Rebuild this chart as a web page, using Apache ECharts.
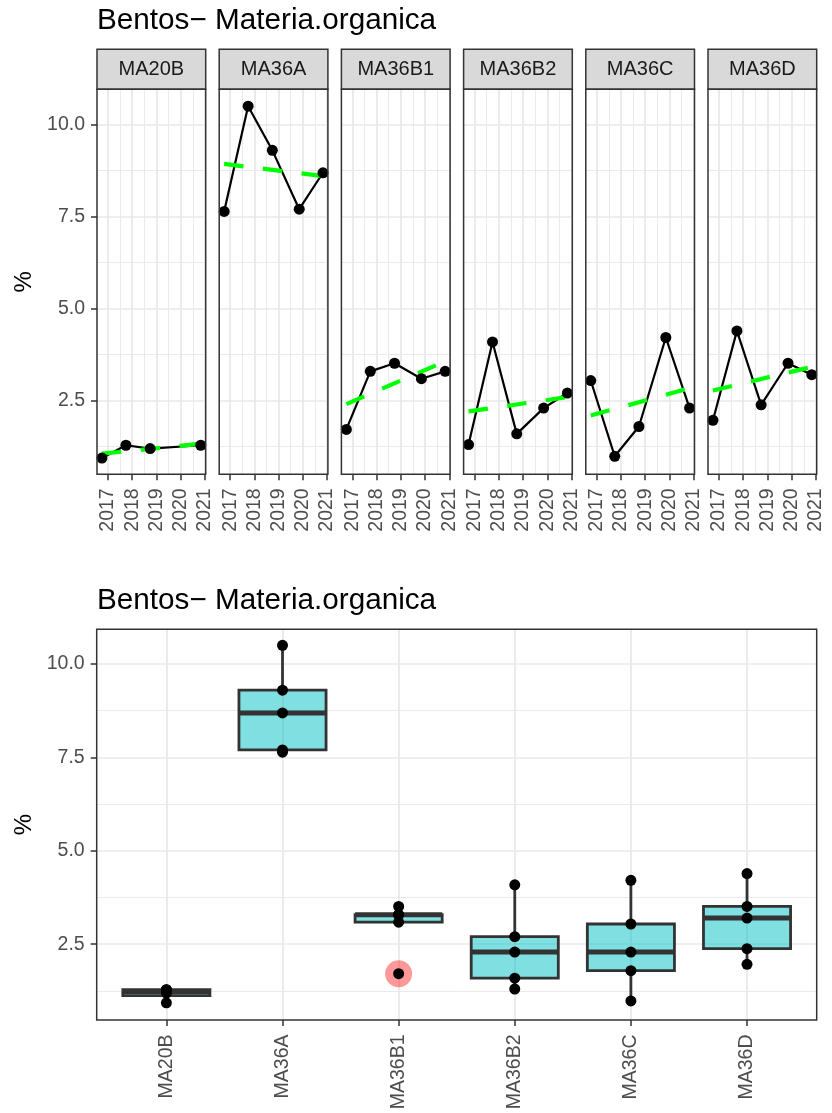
<!DOCTYPE html>
<html>
<head>
<meta charset="utf-8">
<script src="https://cdn.jsdelivr.net/npm/echarts@6/dist/echarts.min.js"></script>
<style>
html,body{margin:0;padding:0;background:#ffffff;}
#chart{width:832px;height:1113px;}
</style>
</head>
<body>
<div id="chart"></div>
<script>
// ---------------- DATA ----------------
const stations = ['MA20B', 'MA36A', 'MA36B1', 'MA36B2', 'MA36C', 'MA36D'];
const sampleYears = [2016.75, 2017.74, 2018.74, 2019.85, 2020.83];
const valuesMA20B  = [0.93, 1.28, 1.19, null, 1.28];
const valuesMA36A  = [7.64, 10.50, 9.30, 7.70, 8.69];
const valuesMA36B1 = [1.71, 3.29, 3.51, 3.09, 3.29];
const valuesMA36B2 = [1.30, 4.09, 1.59, 2.29, 2.70];
const valuesMA36C  = [3.04, 0.98, 1.79, 4.21, 2.29];
const valuesMA36D  = [1.96, 4.39, 2.38, 3.51, 3.20];
// linear trend (green dashed) at first and last sampling date
const trendStart = [1.05, 8.93, 2.40, 2.20, 2.09, 2.77];
const trendEnd   = [1.32, 8.60, 3.56, 2.59, 2.83, 3.41];
// tick labels
const yMajorTicks = [2.5, 5.0, 7.5, 10.0];
const yMinorTicks = [1.25, 3.75, 6.25, 8.75];
const yearMajorTicks = [2017, 2018, 2019, 2020, 2021];
const yearMinorTicks = [2017.5, 2018.5, 2019.5, 2020.5];
const titleText = 'Bentos\u2212 Materia.organica';
const yTitleText = '%';

// ---------------- LAYOUT / STYLE ----------------
const FONT = '"Liberation Sans", Arial, Helvetica, sans-serif';
const allValues = [valuesMA20B, valuesMA36A, valuesMA36B1, valuesMA36B2, valuesMA36C, valuesMA36D];
const P_LEFT0 = 97, P_W = 108.7, P_STEP = 122.2, P_TOP = 89.3, P_H = 385;
const S_TOP = 49.3, S_H = 40;
const B_LEFT = 96.7, B_TOP = 629.3, B_W = 720, B_H = 390.7;
const TOP_Y = [0.49, 10.96], TOP_X = [2016.546, 2021.034];
const BOT_Y = [0.47, 10.93], BOT_X = [0.4, 6.6];
const GRID_COLOR = '#E8E8E8', DARK = '#333333', TXT = '#4D4D4D';
const AX_FS = 19.5;

const grids = [], xAxes = [], yAxes = [], series = [], graphics = [];

function majorX(gi, range, ticks, fmt, margin) {
  return {
    type: 'value', gridIndex: gi, min: range[0], max: range[1], position: 'bottom',
    axisLine: { show: false },
    axisTick: { show: true, length: 6, lineStyle: { color: DARK, width: 1.5 }, customValues: ticks },
    axisLabel: { show: true, customValues: ticks, rotate: 90, margin: margin, fontSize: AX_FS, color: TXT,
      fontFamily: FONT, padding: [14, 0, 0, 0], formatter: fmt },
    splitLine: { show: true, lineStyle: { color: GRID_COLOR, width: 1.7 } },
    minorSplitLine: { show: false }
  };
}
function minorAxis(gi, range, ticks, pos) {
  return {
    type: 'value', gridIndex: gi, min: range[0], max: range[1], position: pos,
    axisLine: { show: false },
    axisTick: { show: false, customValues: ticks },
    axisLabel: { show: false, customValues: ticks },
    splitLine: { show: true, lineStyle: { color: GRID_COLOR, width: 0.9 } }
  };
}
function majorY(gi, range, showLabels) {
  return {
    type: 'value', gridIndex: gi, min: range[0], max: range[1], position: 'left',
    axisLine: { show: false },
    axisTick: { show: showLabels, length: 6, lineStyle: { color: DARK, width: 1.5 }, customValues: yMajorTicks },
    axisLabel: { show: showLabels, customValues: yMajorTicks, margin: 12, fontSize: AX_FS, color: TXT,
      fontFamily: FONT, formatter: v => Number(v).toFixed(1) },
    splitLine: { show: true, lineStyle: { color: GRID_COLOR, width: 1.7 } }
  };
}

// ---------- top faceted panels ----------
stations.forEach((name, i) => {
  const left = P_LEFT0 + i * P_STEP;
  grids.push({ left: left, top: P_TOP, width: P_W, height: P_H, show: false, containLabel: false, outerBoundsMode: 'none' });
  xAxes.push(majorX(i, TOP_X, yearMajorTicks, v => String(Math.round(v)), 14));
  xAxes.push(minorAxis(i, TOP_X, yearMinorTicks, 'top'));
  yAxes.push(majorY(i, TOP_Y, i === 0));
  yAxes.push(minorAxis(i, TOP_Y, yMinorTicks, 'right'));

  const pts = sampleYears.map((yr, k) => [yr, allValues[i][k]]).filter(d => d[1] !== null);
  series.push({ type: 'line', xAxisIndex: 2 * i, yAxisIndex: 2 * i, data: pts, symbol: 'none',
    lineStyle: { color: '#000000', width: 2.2 }, z: 2, silent: true, animation: false });
  series.push({ type: 'line', xAxisIndex: 2 * i, yAxisIndex: 2 * i,
    data: [[pts[0][0], trendStart[i]], [pts[pts.length - 1][0], trendEnd[i]]], symbol: 'none',
    lineStyle: { color: '#00FF00', width: 4.2, type: [19.5, 19.5], cap: 'butt' }, z: 3, silent: true, animation: false });
  series.push({ type: 'scatter', xAxisIndex: 2 * i, yAxisIndex: 2 * i, data: pts, symbol: 'circle', symbolSize: 11,
    itemStyle: { color: '#000000', opacity: 1 }, z: 4, silent: true, animation: false });

  // strip
  graphics.push({ type: 'rect', shape: { x: left, y: S_TOP, width: P_W, height: S_H },
    style: { fill: '#D9D9D9', stroke: DARK, lineWidth: 1.5 }, z: 100 });
  graphics.push({ type: 'text', x: left + P_W / 2, y: S_TOP + S_H / 2,
    style: { text: name, fill: '#1A1A1A', font: '20px ' + FONT, textAlign: 'center', textVerticalAlign: 'middle' }, z: 101 });
  // panel border
  graphics.push({ type: 'rect', shape: { x: left, y: P_TOP, width: P_W, height: P_H },
    style: { fill: 'none', stroke: DARK, lineWidth: 1.5 }, z: 100 });
});

// ---------- bottom boxplot panel ----------
const BG = stations.length;
grids.push({ left: B_LEFT, top: B_TOP, width: B_W, height: B_H, show: false, containLabel: false, outerBoundsMode: 'none' });
xAxes.push({
  type: 'value', gridIndex: BG, min: BOT_X[0], max: BOT_X[1], position: 'bottom',
  axisLine: { show: false },
  axisTick: { show: true, length: 6, lineStyle: { color: DARK, width: 1.5 }, customValues: stations.map((s, i) => i + 1) },
  axisLabel: { show: true, customValues: stations.map((s, i) => i + 1), rotate: 90, margin: 14.5, fontSize: AX_FS, color: TXT,
    fontFamily: FONT, padding: [14, 0, 0, 0], formatter: v => stations[Math.round(v) - 1] || '' },
  splitLine: { show: true, lineStyle: { color: GRID_COLOR, width: 1.7 } }
});
yAxes.push(majorY(BG, BOT_Y, true));
yAxes.push(minorAxis(BG, BOT_Y, yMinorTicks, 'right'));

function q7(sorted, p) {
  const h = (sorted.length - 1) * p, lo = Math.floor(h), hi = Math.ceil(h);
  return sorted[lo] + (h - lo) * (sorted[hi] - sorted[lo]);
}
const boxData = [], outlierData = [], pointData = [];
stations.forEach((name, i) => {
  const vals = allValues[i].filter(v => v !== null);
  const s = vals.slice().sort((a, b) => a - b);
  const q1 = q7(s, 0.25), med = q7(s, 0.5), q3 = q7(s, 0.75), iqr = q3 - q1;
  const inside = s.filter(v => v >= q1 - 1.5 * iqr && v <= q3 + 1.5 * iqr);
  const lo = Math.min(...inside), hi = Math.max(...inside);
  boxData.push([i + 1, lo, q1, med, q3, hi]);
  s.filter(v => v < q1 - 1.5 * iqr || v > q3 + 1.5 * iqr).forEach(v => outlierData.push([i + 1, v]));
  vals.forEach(v => pointData.push([i + 1, v]));
});

series.push({
  type: 'custom', xAxisIndex: 2 * BG, yAxisIndex: 2 * BG, data: boxData, z: 2, silent: true, animation: false,
  encode: { x: 0, y: [1, 2, 3, 4, 5] },
  renderItem: function (params, api) {
    const x = api.value(0);
    const pLo = api.coord([x, api.value(1)]), pQ1 = api.coord([x, api.value(2)]);
    const pMed = api.coord([x, api.value(3)]), pQ3 = api.coord([x, api.value(4)]), pHi = api.coord([x, api.value(5)]);
    const half = api.size([0.75, 0])[0] / 2;
    const cx = pQ1[0];
    const ln = { stroke: DARK, lineWidth: 2.8 };
    return { type: 'group', children: [
      { type: 'line', shape: { x1: cx, y1: pQ3[1], x2: cx, y2: pHi[1] }, style: ln },
      { type: 'line', shape: { x1: cx, y1: pQ1[1], x2: cx, y2: pLo[1] }, style: ln },
      { type: 'rect', shape: { x: cx - half, y: pQ3[1], width: 2 * half, height: pQ1[1] - pQ3[1] },
        style: { fill: 'rgba(0,191,196,0.5)', stroke: DARK, lineWidth: 2.8 } },
      { type: 'line', shape: { x1: cx - half, y1: pMed[1], x2: cx + half, y2: pMed[1] }, style: { stroke: DARK, lineWidth: 5 } }
    ] };
  }
});
series.push({ type: 'scatter', xAxisIndex: 2 * BG, yAxisIndex: 2 * BG, data: outlierData, symbolSize: 27,
  itemStyle: { color: 'rgba(255,0,0,0.5)' }, z: 3, silent: true, animation: false });
series.push({ type: 'scatter', xAxisIndex: 2 * BG, yAxisIndex: 2 * BG, data: pointData, symbolSize: 11,
  itemStyle: { color: '#000000', opacity: 1 }, z: 4, silent: true, animation: false });
graphics.push({ type: 'rect', shape: { x: B_LEFT, y: B_TOP, width: B_W, height: B_H },
  style: { fill: 'none', stroke: DARK, lineWidth: 1.5 }, z: 100 });

// titles & axis titles
graphics.push({ type: 'text', x: 97, y: 21, style: { text: titleText, fill: '#000000', font: '29.7px ' + FONT,
  textAlign: 'left', textVerticalAlign: 'middle' }, z: 101 });
graphics.push({ type: 'text', x: 97, y: 601, style: { text: titleText, fill: '#000000', font: '29.7px ' + FONT,
  textAlign: 'left', textVerticalAlign: 'middle' }, z: 101 });
graphics.push({ type: 'text', x: 24, y: P_TOP + P_H / 2, rotation: Math.PI / 2, style: { text: yTitleText, fill: '#000000',
  font: '24px ' + FONT, textAlign: 'center', textVerticalAlign: 'middle' }, z: 101 });
graphics.push({ type: 'text', x: 24, y: B_TOP + B_H / 2, rotation: Math.PI / 2, style: { text: yTitleText, fill: '#000000',
  font: '24px ' + FONT, textAlign: 'center', textVerticalAlign: 'middle' }, z: 101 });

const chart = echarts.init(document.getElementById('chart'), null, { renderer: 'canvas' });
chart.setOption({
  animation: false,
  backgroundColor: '#ffffff',
  grid: grids,
  xAxis: xAxes,
  yAxis: yAxes,
  series: series,
  graphic: { elements: graphics }
});
</script>
</body>
</html>
